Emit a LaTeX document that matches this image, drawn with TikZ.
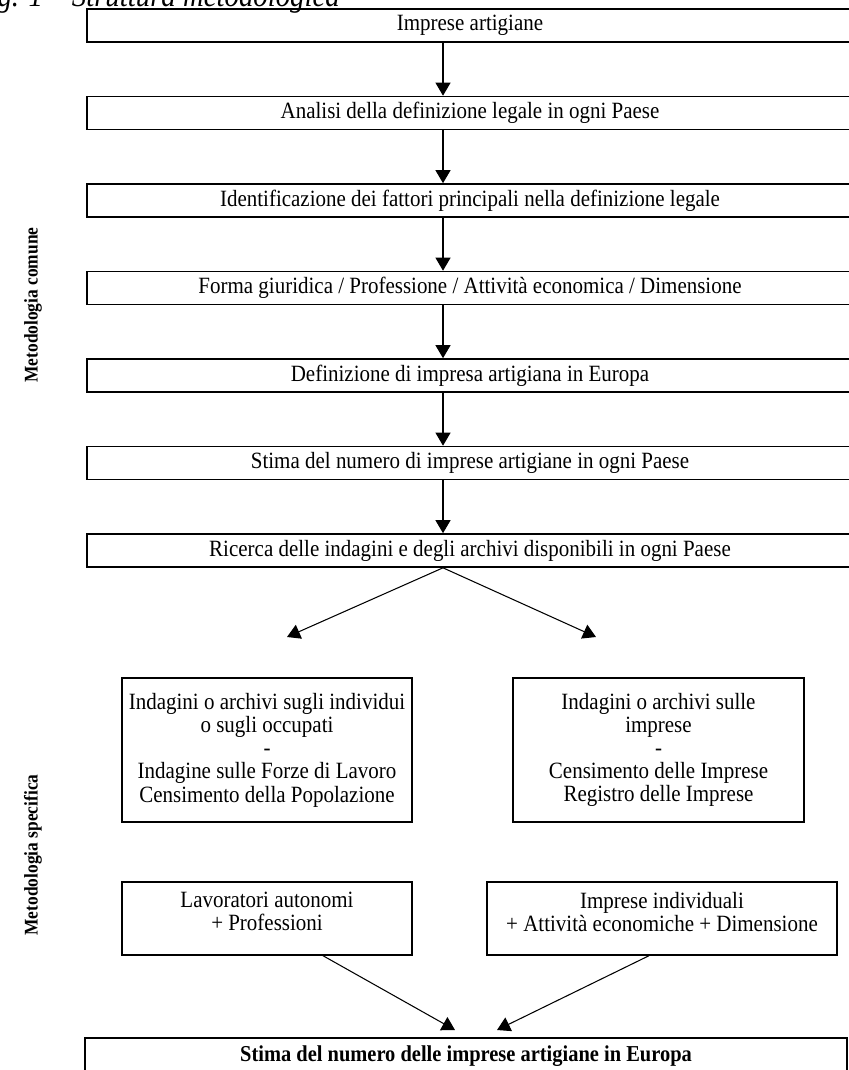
\documentclass[tikz,border=0pt]{standalone}
\usepackage{fontspec}
\setmainfont[FakeStretch=0.9]{Liberation Serif}
\usetikzlibrary{arrows.meta,positioning}

\begin{document}
\begin{tikzpicture}[x=0.03cm,y=-0.03cm]
\tikzset{
  stepbox/.style={draw,line width=1.4pt,minimum width=22.98cm,minimum height=0.99cm,inner sep=0pt,font=\fontsize{19.9}{21.6}\selectfont},
  srcbox/.style={draw,line width=1.2pt,align=center,inner sep=2pt,font=\fontsize{19.9}{19.8}\selectfont},
  directed/.style={-{Triangle[length=0.39cm,width=0.45cm]},line width=0.9pt},
  sidelabel/.style={rotate=90,font=\fontsize{16.5}{18}\selectfont\bfseries}
}
\useasboundingbox (0,0) rectangle (849,1070);
% caption, cut at the top edge
\node[anchor=base east,inner sep=0pt,font=\fontsize{27.3}{29}\selectfont\itshape] (cap) at (340,7) {Fig. 1 – Struttura metodologica};

% common methodology
\node[stepbox] (s1) at (470,25.5) {Imprese artigiane};
\node[stepbox] (s2) at (470,113) {Analisi della definizione legale in ogni Paese};
\node[stepbox] (s3) at (470,200.5) {Identificazione dei fattori principali nella definizione legale};
\node[stepbox] (s4) at (470,288) {Forma giuridica / Professione / Attività economica / Dimensione};
\node[stepbox] (s5) at (470,375.5) {Definizione di impresa artigiana in Europa};
\node[stepbox] (s6) at (470,463) {Stima del numero di imprese artigiane in ogni Paese};
\node[stepbox] (s7) at (470,550.5) {Ricerca delle indagini e degli archivi disponibili in ogni Paese};
\coordinate (ax) at (443,0);
\foreach \a/\b in {s1/s2,s2/s3,s3/s4,s4/s5,s5/s6,s6/s7}
  \draw[directed] (\a.south -| ax) -- (\b.north -| ax);

% specific methodology
\coordinate (tipL) at (287,637);
\coordinate (tipR) at (596,637);
\draw[directed] (s7.south -| ax) -- (tipL);
\draw[directed] (s7.south -| ax) -- (tipR);

\node[srcbox,minimum width=8.7cm,minimum height=4.32cm] (indiv) at (267,750)
  {Indagini o archivi sugli individui\\o sugli occupati\\-\\Indagine sulle Forze di Lavoro\\Censimento della Popolazione};
\node[srcbox,minimum width=8.73cm,minimum height=4.32cm] (firms) at (658.5,750)
  {Indagini o archivi sulle\\imprese\\-\\Censimento delle Imprese\\Registro delle Imprese};

\node[srcbox,minimum width=8.7cm,minimum height=2.19cm] (selfemp) at (267,918.5)
  {Lavoratori autonomi\\+ Professioni\\[-8pt]\mbox{}};
\node[srcbox,minimum width=10.5cm,minimum height=2.19cm] (single) at (662,918.5)
  {Imprese individuali\\+ Attività economiche + Dimensione\\[-8pt]\mbox{}};

\coordinate (outL) at (323,0);
\coordinate (outR) at (649,0);
\coordinate (inL) at (455,1030);
\coordinate (inR) at (497,1030);
\draw[directed] (selfemp.south -| outL) -- (inL);
\draw[directed] (single.south -| outR) -- (inR);

\node[draw,line width=1.4pt,anchor=north,minimum width=22.86cm,minimum height=1.08cm,inner sep=0pt,
  font=\fontsize{19.4}{21}\selectfont\bfseries] (total) at (466,1037)
  {Stima del numero delle imprese artigiane in Europa};

% side labels
\node[sidelabel] (lcom) at (33,305) {Metodologia comune};
\node[sidelabel] (lspec) at (33,855) {Metodologia specifica};
\end{tikzpicture}
\end{document}
